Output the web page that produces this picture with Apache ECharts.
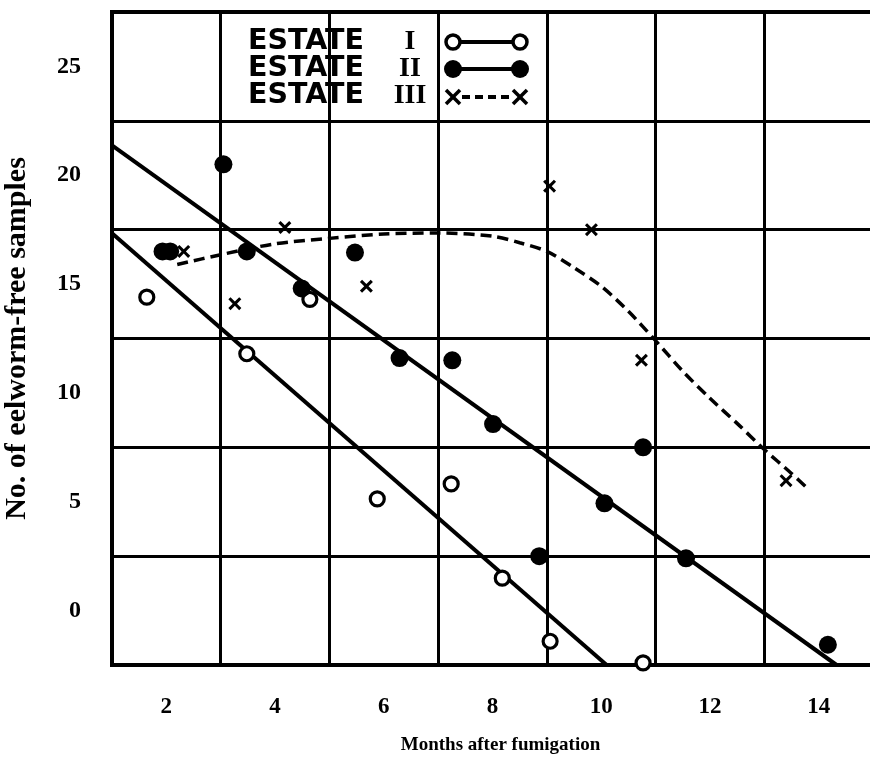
<!DOCTYPE html>
<html>
<head>
<meta charset="utf-8">
<script src="https://cdn.jsdelivr.net/npm/echarts@6/dist/echarts.min.js"></script>
<style>
  html, body { margin: 0; padding: 0; background: #fff; }
  #chart { width: 870px; height: 763px; }
</style>
</head>
<body>
<div id="chart"></div>
<script>
// ---- Data ----
const seriesNames = ['ESTATE', 'ESTATE', 'ESTATE'];
const seriesNumerals = ['I', 'II', 'III'];

const estate1Months = [1.64, 3.48, 4.64, 5.88, 7.24, 8.18, 9.06, 10.77];
const estate1Values = [14.4, 11.8, 14.3, 5.13, 5.82, 1.49, -1.41, -2.4];

const estate2Months = [1.93, 2.07, 3.05, 3.48, 4.49, 5.47, 6.29, 7.26, 8.01, 8.86, 10.06, 10.77, 11.56, 14.17];
const estate2Values = [16.5, 16.5, 20.5, 16.5, 14.8, 16.45, 11.6, 11.5, 8.57, 2.5, 4.93, 7.5, 2.4, -1.57];

const estate3Months = [2.32, 3.26, 4.18, 5.68, 9.05, 9.82, 10.74, 13.4];
const estate3Values = [16.5, 14.1, 17.6, 14.9, 19.5, 17.5, 11.5, 5.97];

// fitted straight lines (end points)
const estate1FitMonths = [1, 10.1];
const estate1FitValues = [17.34, -2.5];
const estate2FitMonths = [1, 14.33];
const estate2FitValues = [21.37, -2.5];

// freehand dashed curve for estate III
const estate3CurveMonths = [2.2, 3.0, 4.0, 5.0, 6.0, 7.0, 8.0, 8.5, 9.0, 9.5, 10.0, 10.5, 11.0, 11.5, 12.0, 12.5, 13.0, 13.5, 13.8];
const estate3CurveValues = [15.9, 16.35, 16.85, 17.1, 17.3, 17.35, 17.2, 16.9, 16.5, 15.75, 14.9, 13.75, 12.4, 11.0, 9.75, 8.6, 7.4, 6.3, 5.6];

// axes
const xLabelTicks = [2, 4, 6, 8, 10, 12, 14];
const xGridTicks = [3, 5, 7, 9, 11, 13];
const yLabelTicks = [0, 5, 10, 15, 20, 25];
const yGridTicks = [2.5, 7.5, 12.5, 17.5, 22.5];
const xRange = [1, 15];
const yRange = [-2.5, 27.5];
const xTitle = 'Months after fumigation';
const yTitle = 'No. of eelworm-free samples';

// ---- helpers ----
const zip = (a, b) => a.map((v, i) => [v, b[i]]);
const crossPath = 'path://M0,2 L2,0 L6,4 L10,0 L12,2 L8,6 L12,10 L10,12 L6,8 L2,12 L0,10 L4,6 Z';

// legend graphics (legend drawn inside top grid cells)
const legendRows = [42, 69, 96];
const legendGraphics = [];
legendRows.forEach((y, i) => {
  legendGraphics.push({ type: 'text', x: 248, y: y, z: 100,
    style: { text: seriesNames[i], font: 'bold 28.5px "DejaVu Sans"', fill: '#000', verticalAlign: 'middle' } });
  legendGraphics.push({ type: 'text', x: 410, y: y, z: 100,
    style: { text: seriesNumerals[i], font: 'bold 28px "Liberation Serif"', fill: '#000', align: 'center', verticalAlign: 'middle' } });
});
// row 1: open circles joined
legendGraphics.push({ type: 'line', z: 100, shape: { x1: 453, y1: 42, x2: 520, y2: 42 }, style: { stroke: '#000', lineWidth: 4 } });
[453, 520].forEach(cx => legendGraphics.push({ type: 'circle', z: 101, shape: { cx: cx, cy: 42, r: 7 }, style: { fill: '#fff', stroke: '#000', lineWidth: 3.5 } }));
// row 2: filled circles joined
legendGraphics.push({ type: 'line', z: 100, shape: { x1: 453, y1: 69, x2: 520, y2: 69 }, style: { stroke: '#000', lineWidth: 4 } });
[453, 520].forEach(cx => legendGraphics.push({ type: 'circle', z: 101, shape: { cx: cx, cy: 69, r: 9 }, style: { fill: '#000' } }));
// row 3: crosses joined by dashes
legendGraphics.push({ type: 'line', z: 100, shape: { x1: 462, y1: 97, x2: 512, y2: 97 }, style: { stroke: '#000', lineWidth: 4, lineDash: [8, 5] } });
[453, 520].forEach(cx => {
  legendGraphics.push({ type: 'line', z: 101, shape: { x1: cx - 7, y1: 90, x2: cx + 7, y2: 104 }, style: { stroke: '#000', lineWidth: 3.5 } });
  legendGraphics.push({ type: 'line', z: 101, shape: { x1: cx + 7, y1: 90, x2: cx - 7, y2: 104 }, style: { stroke: '#000', lineWidth: 3.5 } });
});

const chart = echarts.init(document.getElementById('chart'), null, { renderer: 'canvas' });
chart.setOption({
  animation: false,
  backgroundColor: '#fff',
  grid: { left: 112, top: 12, width: 761, height: 653, containLabel: false, outerBoundsMode: 'none',
    show: true, borderColor: '#000', borderWidth: 4, backgroundColor: 'transparent' },
  xAxis: {
    type: 'value', min: xRange[0], max: xRange[1],
    name: xTitle, nameLocation: 'middle', nameGap: 71,
    nameTextStyle: { fontFamily: 'Liberation Serif', fontWeight: 'bold', fontSize: 19, color: '#000', padding: [0, 0, 0, 16] },
    axisLine: { show: false },
    axisTick: { show: false, customValues: xGridTicks },
    axisLabel: { customValues: xLabelTicks, margin: 31, color: '#000', fontFamily: 'Liberation Serif', fontWeight: 'bold', fontSize: 23 },
    splitLine: { show: true, customValues: xGridTicks, lineStyle: { color: '#000', width: 3 } }
  },
  yAxis: {
    type: 'value', min: yRange[0], max: yRange[1],
    name: yTitle, nameLocation: 'middle', nameGap: 80, nameRotate: 90,
    nameTextStyle: { fontFamily: 'Liberation Serif', fontWeight: 'bold', fontSize: 30, color: '#000' },
    axisLine: { show: false },
    axisTick: { show: false, customValues: yGridTicks },
    axisLabel: { customValues: yLabelTicks, margin: 31, color: '#000', fontFamily: 'Liberation Serif', fontWeight: 'bold', fontSize: 24, padding: [0, 0, 6, 0] },
    splitLine: { show: true, customValues: yGridTicks, lineStyle: { color: '#000', width: 3 } }
  },
  graphic: legendGraphics,
  series: [
    { name: 'ESTATE I fit', type: 'line', data: zip(estate1FitMonths, estate1FitValues), showSymbol: false, z: 3,
      lineStyle: { color: '#000', width: 4 } },
    { name: 'ESTATE II fit', type: 'line', data: zip(estate2FitMonths, estate2FitValues), showSymbol: false, z: 3,
      lineStyle: { color: '#000', width: 4 } },
    { name: 'ESTATE III curve', type: 'line', data: zip(estate3CurveMonths, estate3CurveValues), showSymbol: false, smooth: 0.3, z: 3,
      lineStyle: { color: '#000', width: 3.5, type: [11, 6] } },
    { name: 'ESTATE I', type: 'scatter', data: zip(estate1Months, estate1Values), symbol: 'circle', symbolSize: 14, z: 5,
      itemStyle: { color: '#fff', borderColor: '#000', borderWidth: 3.2, opacity: 1 } },
    { name: 'ESTATE II', type: 'scatter', data: zip(estate2Months, estate2Values), symbol: 'circle', symbolSize: 18, z: 5,
      itemStyle: { color: '#000', opacity: 1 } },
    { name: 'ESTATE III', type: 'scatter', data: zip(estate3Months, estate3Values), symbol: crossPath, symbolSize: 13, z: 5,
      itemStyle: { color: '#000', opacity: 1 } }
  ]
});
</script>
</body>
</html>
